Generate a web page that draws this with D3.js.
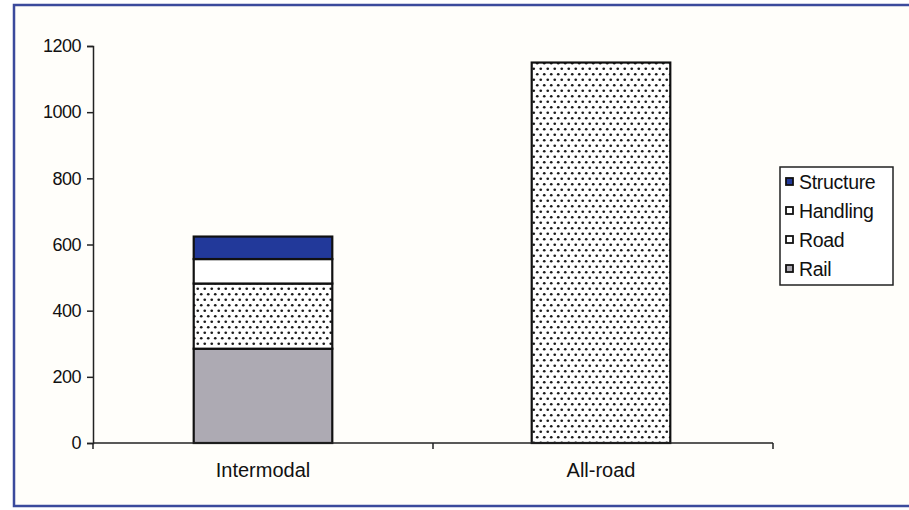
<!DOCTYPE html>
<html><head><meta charset="utf-8">
<script src="https://cdn.jsdelivr.net/npm/d3@7"></script>
<style>html,body{margin:0;padding:0;background:#fff;}svg{display:block;}</style>
</head><body>
<svg id="c" width="909" height="510"></svg>
<script>
const categories = ["Intermodal", "All-road"];
const seriesNames = ["Rail", "Road", "Handling", "Structure"];
const rail      = [285, 0];
const road      = [197, 1150];
const handling  = [74, 0];
const structure = [68, 0];
const yTicks = [0, 200, 400, 600, 800, 1000, 1200];
const legendOrder = ["Structure", "Handling", "Road", "Rail"];

const svg = d3.select("#c");
const defs = svg.append("defs");
const pat = defs.append("pattern").attr("id","dots").attr("patternUnits","userSpaceOnUse")
  .attr("width",7).attr("height",11);
pat.append("rect").attr("width",7).attr("height",11).attr("fill","#fff");
pat.append("circle").attr("cx",1.75).attr("cy",2.75).attr("r",1.35).attr("fill","#1a1a1a");
pat.append("circle").attr("cx",5.25).attr("cy",8.25).attr("r",1.35).attr("fill","#1a1a1a");

const fills = {Rail:"#adaab3", Road:"url(#dots)", Handling:"#ffffff", Structure:"#22399a"};
const font = "Liberation Sans, Arial, sans-serif";

// frame
svg.append("rect").attr("x",14).attr("y",5).attr("width",900).attr("height",501)
  .attr("fill","#fffefa").attr("stroke","#3b4a9c").attr("stroke-width",2.5);

const x = d3.scaleBand().domain(categories).range([94,770]).paddingInner(0.59).paddingOuter(0.295);
const y = d3.scaleLinear().domain([0,1200]).range([443,46]);

const data = categories.map((c,i)=>({cat:c, Rail:rail[i], Road:road[i], Handling:handling[i], Structure:structure[i]}));
const stack = d3.stack().keys(seriesNames)(data);

const g = svg.append("g");
stack.forEach(layer=>{
  g.selectAll(null).data(layer.filter(d=>d[1]-d[0]>0)).enter().append("rect")
    .attr("x",d=>x(d.data.cat)).attr("width",x.bandwidth())
    .attr("y",d=>y(d[1])).attr("height",d=>y(d[0])-y(d[1]))
    .attr("fill",fills[layer.key]).attr("stroke","#111").attr("stroke-width",2.2);
});

// y axis
const ya = svg.append("g").attr("transform","translate(93,0)")
  .call(d3.axisLeft(y).tickValues(yTicks).tickSize(6).tickPadding(6).tickFormat(d3.format("d")));
ya.select(".domain").attr("stroke","#222").attr("stroke-width",1.5);
ya.selectAll(".tick line").attr("stroke","#222").attr("stroke-width",1.5);
ya.selectAll("text").attr("font-family",font).attr("font-size",18).attr("letter-spacing","-0.5px").attr("fill","#111");

// x axis
const xa = svg.append("g").attr("transform","translate(0,443)")
  .call(d3.axisBottom(x).tickSize(0).tickPadding(20));
xa.select(".domain").remove();
xa.selectAll("text").attr("font-family",font).attr("font-size",20).attr("fill","#111");
const x0 = 93, x1 = 773;
const step = (x1 - x0) / categories.length;
const bounds = d3.range(categories.length+1).map(i=>x0+i*step);
svg.append("line").attr("x1",x0).attr("x2",x1).attr("y1",443).attr("y2",443)
  .attr("stroke","#222").attr("stroke-width",1.5);
svg.selectAll(null).data(bounds).enter().append("line")
  .attr("x1",d=>d).attr("x2",d=>d).attr("y1",443).attr("y2",449).attr("stroke","#222").attr("stroke-width",1.5);

// legend
const lg = svg.append("g").attr("transform","translate(780,167)");
lg.append("rect").attr("width",113).attr("height",118).attr("fill","#fff").attr("stroke","#222").attr("stroke-width",1.5);
legendOrder.forEach((k,i)=>{
  const row = lg.append("g").attr("transform",`translate(0,${15+i*29})`);
  row.append("rect").attr("x",6).attr("y",-4).attr("width",7).attr("height",7)
    .attr("fill",k==="Road"?"#fff":fills[k]).attr("stroke","#111").attr("stroke-width",1.8);
  row.append("text").attr("x",19).attr("y",0).attr("dy","0.35em")
    .attr("font-family",font).attr("font-size",19.5).attr("letter-spacing","-0.3px").attr("fill","#111").text(k);
});
</script>
</body></html>
